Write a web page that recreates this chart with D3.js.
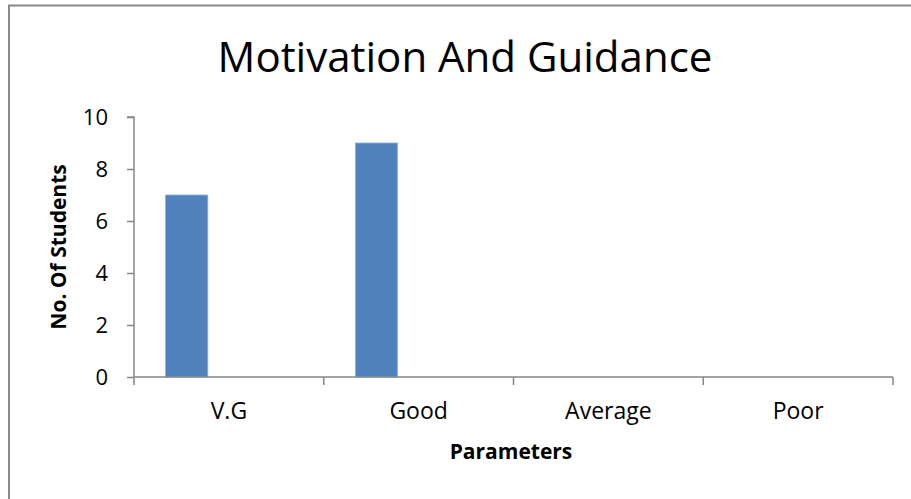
<!DOCTYPE html>
<html>
<head>
<meta charset="utf-8">
<script src="https://cdn.jsdelivr.net/npm/d3@7"></script>
<style>
body { margin: 0; background: #fff; }
text { font-family: "Open Sans", "Noto Sans", sans-serif; fill: #000; }
</style>
</head>
<body>
<div id="chart"></div>
<script>
// chart values
var categories = ["V.G", "Good", "Average", "Poor"];
var seriesNames = ["Series1", "Series2", "Series3"];
var series1 = [7, 9, 0, 0];
var series2 = [0, 0, 0, 0];
var series3 = [0, 0, 0, 0];
var yTicks = [0, 2, 4, 6, 8, 10];

var W = 911, H = 499;
var plotL = 134, plotR = 893, plotT = 117, plotB = 377;

var svg = d3.select("#chart").append("svg").attr("width", W).attr("height", H);

// outer frame (cut off at right/bottom like the source)
svg.append("path")
    .attr("d", "M9,499V5.5H911")
    .attr("fill", "none").attr("stroke", "#888").attr("stroke-width", 2);

var x = d3.scaleBand().domain(categories).range([plotL, plotR]).padding(0);
var xs = d3.scaleBand().domain(seriesNames).range([0, x.bandwidth()])
    .paddingInner(0).paddingOuter(0.75);
var y = d3.scaleLinear().domain([0, 10]).range([plotB, plotT]);

var allSeries = [series1, series2, series3];
var g = svg.append("g");
allSeries.forEach(function(vals, si) {
    g.selectAll(".bar" + si).data(vals).enter().append("rect")
        .attr("x", function(d, i) { return x(categories[i]) + xs(seriesNames[si]); })
        .attr("width", xs.bandwidth())
        .attr("y", function(d) { return y(d); })
        .attr("height", function(d) { return y(0) - y(d); })
        .attr("fill", "#4F81BD")
        .attr("stroke", "#8FB0DA").attr("stroke-width", function(d) { return d > 0 ? 0.8 : 0; });
});

// y axis
var yAxis = svg.append("g").attr("transform", "translate(" + plotL + ",0)")
    .call(d3.axisLeft(y).tickValues(yTicks).tickSize(7).tickPadding(19));
yAxis.select(".domain").attr("stroke", "#868686").attr("stroke-width", 1.5)
    .attr("d", "M-7," + plotT + "H0V" + plotB);
yAxis.selectAll(".tick line").attr("stroke", "#868686").attr("stroke-width", 1.5);
yAxis.selectAll(".tick text").style("font-size", "22px").attr("dy", "0.35em")
    .style("font-family", "'Open Sans', sans-serif").attr("fill", "#000");

// x axis
var xAxis = svg.append("g").attr("transform", "translate(0," + plotB + ")")
    .call(d3.axisBottom(x).tickSize(0).tickPadding(26));
xAxis.select(".domain").attr("stroke", "#868686").attr("stroke-width", 1.5)
    .attr("d", "M" + plotL + ",0H" + plotR);
xAxis.selectAll(".tick text").style("font-size", "23px")
    .style("font-family", "'Open Sans', sans-serif").attr("fill", "#000");
var edges = categories.map(function(c) { return x(c); }).concat([plotR]);
xAxis.selectAll(".edge").data(edges).enter().append("line")
    .attr("x1", function(d) { return d; }).attr("x2", function(d) { return d; })
    .attr("y1", 0).attr("y2", 8)
    .attr("stroke", "#868686").attr("stroke-width", 1.5);

// titles
svg.append("text").attr("x", 465).attr("y", 72).attr("text-anchor", "middle")
    .style("font-size", "42px").text("Motivation And Guidance");
svg.append("text").attr("x", 511).attr("y", 459).attr("text-anchor", "middle")
    .style("font-size", "21px").style("font-weight", "bold").text("Parameters");
svg.append("text").attr("transform", "translate(66,247) rotate(-90)")
    .attr("text-anchor", "middle")
    .style("font-size", "21px").style("font-weight", "bold").text("No. Of Students");
</script>
</body>
</html>
